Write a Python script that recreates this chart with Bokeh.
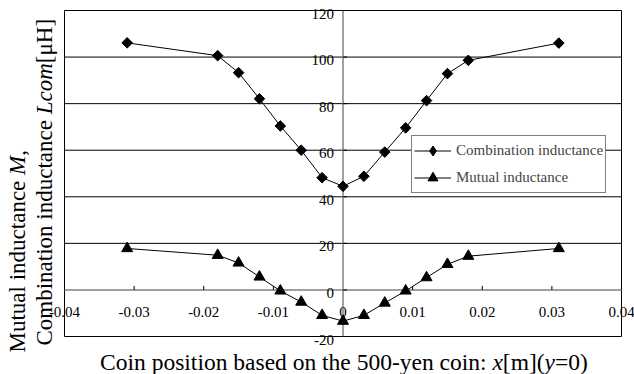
import math
from bokeh.plotting import figure
from bokeh.models import (Range1d, Label, LabelSet, Grid,
                          ColumnDataSource, Legend, LegendItem)
from bokeh.embed import file_html
from bokeh.resources import INLINE

# ---------------- data ----------------
x_pos = [-0.031, -0.018, -0.015, -0.012, -0.009, -0.006, -0.003, 0.0,
         0.003, 0.006, 0.009, 0.012, 0.015, 0.018, 0.031]
combination = [106.1, 100.6, 93.3, 82.1, 70.4, 60.0, 48.2, 44.5,
               48.8, 59.2, 69.6, 81.3, 92.9, 98.6, 106.0]
mutual = [17.8, 14.9, 11.6, 5.6, -0.4, -5.2, -10.9, -13.4,
          -10.9, -5.6, -0.4, 5.3, 11.0, 14.5, 17.8]

xtick_vals = [-0.04, -0.03, -0.02, -0.01, 0.0, 0.01, 0.02, 0.03, 0.04]
xtick_labels = ["-0.04", "-0.03", "-0.02", "-0.01", "0", "0.01", "0.02", "0.03", "0.04"]
ytick_vals = [-20, 0, 20, 40, 60, 80, 100, 120]
ytick_labels = ["-20", "0", "20", "40", "60", "80", "100", "120"]
xminor_vals = [-0.03, -0.02, -0.01, 0.01, 0.02, 0.03]

series_names = ["Combination inductance", "Mutual inductance"]

FONT = "Liberation Serif"
W, H = 634, 374
# plot-area box in canvas pixels
FL, FR, FT, FB = 64, 621, 10, 336
XMIN, XMAX, YMIN, YMAX = xtick_vals[0], xtick_vals[-1], ytick_vals[0], ytick_vals[-1]
kx = (XMAX - XMIN) / (FR - FL)
ky = (YMAX - YMIN) / (FB - FT)

# Times metrics (per em) for placing mixed-style title pieces
REG = {' ': .25, 'C': .667, 'o': .5, 'i': .278, 'n': .5, 'p': .5, 's': .389, 't': .278,
       'b': .5, 'a': .444, 'e': .444, 'd': .5, 'h': .5, '5': .5, '0': .5, '-': .333,
       'y': .5, 'c': .444, ':': .278, '[': .333, 'm': .778, ']': .333, '(': .333,
       ')': .333, '=': .564, 'M': .889, 'u': .5, 'l': .278, ',': .25, 'μ': .5,
       'H': .722, 'L': .611}
ITA = {'x': .444, 'y': .444, 'M': .833, 'L': .556, 'c': .444, 'o': .5, 'm': .722}


def width(s, italic, size):
    tab = ITA if italic else REG
    return sum(tab.get(ch, .5) for ch in s) * size


p = figure(width=W, height=H, output_backend="svg", toolbar_location=None,
           x_range=Range1d(XMIN - FL * kx, XMAX + (W - FR) * kx),
           y_range=Range1d(YMIN - (H - FB) * ky, YMAX + FT * ky),
           x_axis_location=None, y_axis_location=None,
           min_border=0, background_fill_color="white", border_fill_color="white")
p.outline_line_color = None
for r in list(p.center):
    if isinstance(r, Grid):
        r.visible = False

# gridlines (black) and frame
grid_y = [v for v in ytick_vals if v != 0]
p.segment(x0=[XMIN] * len(grid_y), x1=[XMAX] * len(grid_y), y0=grid_y, y1=grid_y,
          line_color="black", line_width=1)
p.segment(x0=[XMIN, XMAX], x1=[XMIN, XMAX], y0=[YMIN, YMIN], y1=[YMAX, YMAX],
          line_color="black", line_width=1)
# axis lines (gray) through the origin
p.segment(x0=[XMIN, 0], x1=[XMAX, 0], y0=[0, YMIN], y1=[0, YMAX],
          line_color="#808080", line_width=1.5)

# tick marks
p.ray(x=xminor_vals, y=[0] * len(xminor_vals), length=4, length_units="screen",
      angle=math.pi / 2, line_color="black", line_width=1)
p.ray(x=[0] * len(ytick_vals), y=ytick_vals, length=4, length_units="screen",
      angle=0, line_color="black", line_width=1)

# series
src = ColumnDataSource(dict(x=x_pos, comb=combination, mut=mutual))
l1 = p.line("x", "comb", source=src, line_color="black", line_width=1)
m1 = p.scatter("x", "comb", source=src, marker="square", angle=math.pi / 4, size=7.5,
               fill_color="black", line_color="black")
# diamond (hidden inside the rotated squares) used for the legend glyph
m1d = p.scatter("x", "comb", source=src, marker="diamond", size=8.5,
                fill_color="black", line_color="black")
l2 = p.line("x", "mut", source=src, line_color="black", line_width=1)
m2 = p.scatter("x", "mut", source=src, marker="triangle", size=11,
               fill_color="black", line_color="black")

# tick labels
xsrc = ColumnDataSource(dict(x=xtick_vals, y=[0] * len(xtick_vals), t=xtick_labels))
p.add_layout(LabelSet(x="x", y="y", text="t", source=xsrc, text_align="center",
                      text_baseline="alphabetic", y_offset=-27,
                      text_font=FONT, text_font_size="15px", text_color="black"))
ysrc = ColumnDataSource(dict(x=[0] * len(ytick_vals), y=ytick_vals, t=ytick_labels))
p.add_layout(LabelSet(x="x", y="y", text="t", source=ysrc, text_align="right",
                      text_baseline="middle", x_offset=-9, y_offset=-3,
                      text_font=FONT, text_font_size="15px", text_color="black"))

# legend
legend = Legend(items=[LegendItem(label=series_names[0], renderers=[l1, m1d]),
                       LegendItem(label=series_names[1], renderers=[l2, m2])],
                location=(411, H - 193), label_text_font=FONT, label_text_font_size="15px",
                glyph_width=37, glyph_height=25, label_height=25, label_standoff=5,
                padding=2, spacing=2, margin=0, border_line_color="black",
                border_line_width=1, background_fill_color="white", background_fill_alpha=1)
p.add_layout(legend)

# x-axis title (mixed italic)
XS = 23.5
xpieces = [("Coin position based on the 500-yen coin:", False), (" ", None),
           ("x", True), ("[m](", False), ("y", True), ("=0)", False)]
total = sum(width(s, bool(it), XS) for s, it in xpieces)
cx = 343.5 - total / 2
for s, it in xpieces:
    w = width(s, bool(it), XS)
    if it is not None:
        p.add_layout(Label(x=cx, y=H - 361, x_units="screen", y_units="screen", text=s,
                           text_font=FONT, text_font_size=f"{XS}px",
                           text_font_style="italic" if it else "normal",
                           text_align="left", text_baseline="alphabetic", text_color="black"))
    cx += w

# y-axis title (two lines, rotated, mixed italic)
YS = 23
ylines = [
    (17, H - 352, [("Mutual inductance", False), (" ", None), ("M", True), (",", False)]),
    (44, H - 345, [("Combination inductance", False), (" ", None), ("Lcom", True), ("[μH]", False)]),
]
for bx, by, pieces in ylines:
    cy = by
    for s, it in pieces:
        w = width(s, bool(it), YS)
        if it is not None:
            p.add_layout(Label(x=bx, y=cy, x_units="screen", y_units="screen", text=s,
                               angle=math.pi / 2, text_font=FONT, text_font_size=f"{YS}px",
                               text_font_style="italic" if it else "normal",
                               text_align="left", text_baseline="alphabetic", text_color="black"))
        cy += w

open("out.html", "w").write(file_html(p, INLINE))
